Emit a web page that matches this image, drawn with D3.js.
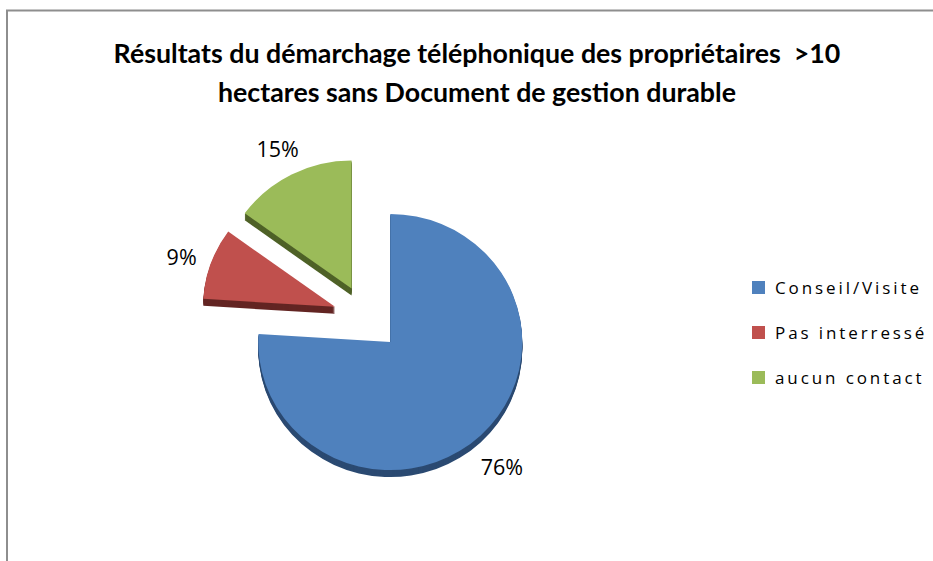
<!DOCTYPE html>
<html>
<head>
<meta charset="utf-8">
<script src="https://cdn.jsdelivr.net/npm/d3@7"></script>
<style>
  html, body { margin: 0; padding: 0; background: #fff; }
  svg { display: block; }
  text { white-space: pre; }
</style>
</head>
<body>
<svg id="chart" width="933" height="561"></svg>
<script>
// ---- data ----
const categories = ["Conseil/Visite", "Pas interressé", "aucun contact"];
const values = [76, 9, 15];
const valueLabels = ["76%", "9%", "15%"];
const titleLines = ["Résultats du démarchage téléphonique des propriétaires  >10",
                    "hectares sans Document de gestion durable"];

// ---- style ----
const topColors = ["#4f81bd", "#c0504d", "#9bbb59"];
const sideColors = ["#2b4a72", "#632523", "#4f6228"];

const W = 933, H = 561;
const svg = d3.select("#chart");

// border
svg.append("path")
  .attr("d", `M7,${H} L7,10.5 L${W},10.5`)
  .attr("fill", "none").attr("stroke", "#8e8e8e").attr("stroke-width", 2);

// title
const title = svg.append("text")
  .attr("text-anchor", "middle")
  .attr("font-family", "Lato, 'Open Sans', sans-serif")
  .attr("font-weight", "bold")
  .attr("fill", "#000");
titleLines.forEach((t, i) => {
  title.append("tspan").attr("x", 477).attr("y", i === 0 ? 63 : 102).text(t);
});
title.attr("font-size", 20);
const tw = title.select("tspan").node().getComputedTextLength();
title.attr("font-size", 20 * 727 / tw);

// pie
const cx = 367, cy = 318, R = 132, explode = 34, depth = 7, sy = 0.97;
const pie = d3.pie().sort(null).value(d => d)(values);
const arc = d3.arc().innerRadius(0).outerRadius(R);

const g = svg.append("g").attr("transform", `translate(${cx},${cy})`);

pie.forEach((p, i) => {
  const m = (p.startAngle + p.endAngle) / 2;
  const dx = explode * Math.sin(m), dy = -explode * Math.cos(m) * sy;
  const sg = g.append("g").attr("transform", `translate(${dx},${dy})`);
  for (let k = depth; k >= 1; k--) {
    sg.append("path")
      .attr("d", arc(p))
      .attr("transform", `translate(0,${k}) scale(1,${sy})`)
      .attr("fill", sideColors[i]);
  }
  sg.append("path")
    .attr("d", arc(p))
    .attr("transform", `scale(1,${sy})`)
    .attr("fill", topColors[i]);

  const LR = 163;
  sg.append("text")
    .attr("x", LR * Math.sin(m))
    .attr("y", -LR * Math.cos(m) + 6)
    .attr("dy", "0.36em")
    .attr("text-anchor", "middle")
    .attr("font-family", "'Open Sans', 'Liberation Sans', sans-serif")
    .attr("font-size", 21.5)
    .attr("fill", "#000")
    .text(valueLabels[i]);
});

// legend
const lg = svg.append("g");
categories.forEach((c, i) => {
  const y = 288 + i * 45;
  lg.append("rect").attr("x", 752).attr("y", y - 7).attr("width", 13).attr("height", 13)
    .attr("fill", topColors[i]);
  lg.append("text").attr("x", 775).attr("y", y).attr("dy", "0.36em")
    .attr("font-family", "'Open Sans', 'Liberation Sans', sans-serif")
    .attr("font-size", 17)
    .attr("letter-spacing", 2.9)
    .attr("fill", "#000")
    .text(c);
});
</script>
</body>
</html>
